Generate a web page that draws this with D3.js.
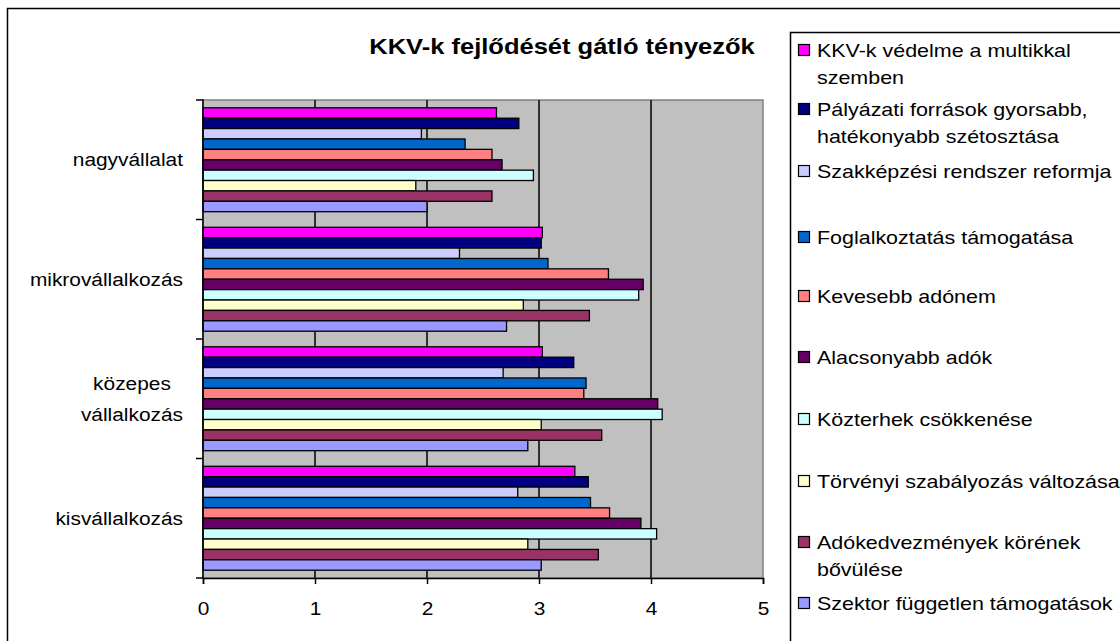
<!DOCTYPE html>
<html>
<head>
<meta charset="utf-8">
<script src="https://cdn.jsdelivr.net/npm/d3@7"></script>
<style>
    body { margin: 0; background: #fff; }
    text { font-family: "Liberation Sans", Arial, sans-serif; fill: #000; }
</style>
</head>
<body>
<svg id="chart" width="1120" height="641"></svg>
<script>
// categories, top to bottom as drawn
let categories = ["nagyvállalat", "mikrovállalkozás", "közepes vállalkozás", "kisvállalkozás"];

let series_names = [
    "KKV-k védelme a multikkal szemben",
    "Pályázati források gyorsabb, hatékonyabb szétosztása",
    "Szakképzési rendszer reformja",
    "Foglalkoztatás támogatása",
    "Kevesebb adónem",
    "Alacsonyabb adók",
    "Közterhek csökkenése",
    "Törvényi szabályozás változása",
    "Adókedvezmények körének bővülése",
    "Szektor független támogatások"
];

// legend text split into lines
let legend_lines = [
    ["KKV-k védelme a multikkal", "szemben"],
    ["Pályázati források gyorsabb,", "hatékonyabb szétosztása"],
    ["Szakképzési rendszer reformja"],
    ["Foglalkoztatás támogatása"],
    ["Kevesebb adónem"],
    ["Alacsonyabb adók"],
    ["Közterhek csökkenése"],
    ["Törvényi szabályozás változása"],
    ["Adókedvezmények körének", "bővülése"],
    ["Szektor független támogatások"]
];

let colors = ["#FF00FF", "#000080", "#CCCCFF", "#0066CC", "#FF8080",
              "#660066", "#CCFFFF", "#FFFFCC", "#993366", "#9999FF"];

// values per series, in category order: nagy, mikro, közepes, kis
let s_kkv_vedelme   = [2.62, 3.03, 3.03, 3.32];
let s_palyazati     = [2.82, 3.02, 3.31, 3.44];
let s_szakkepzesi   = [1.95, 2.29, 2.68, 2.81];
let s_foglalkoztat  = [2.34, 3.08, 3.42, 3.46];
let s_kevesebb_ado  = [2.58, 3.62, 3.40, 3.63];
let s_alacsony_ado  = [2.67, 3.93, 4.06, 3.91];
let s_kozterhek     = [2.95, 3.89, 4.10, 4.05];
let s_torvenyi      = [1.90, 2.86, 3.02, 2.90];
let s_adokedvezmeny = [2.58, 3.45, 3.56, 3.53];
let s_szektor       = [2.00, 2.71, 2.90, 3.02];

let x_ticks = [0, 1, 2, 3, 4, 5];

let all_series = [s_kkv_vedelme, s_palyazati, s_szakkepzesi, s_foglalkoztat, s_kevesebb_ado,
                  s_alacsony_ado, s_kozterhek, s_torvenyi, s_adokedvezmeny, s_szektor];

let stretch = 1.16;
let svg = d3.select("#chart");

function put_text(g, x, y, str, size, anchor, weight) {
    return g.append("text")
        .attr("transform", `translate(${x},${y}) scale(${stretch},1)`)
        .attr("text-anchor", anchor || "start")
        .style("font-size", size + "px")
        .style("font-weight", weight || "normal")
        .text(str);
}

let plot = { left: 203, right: 763, top: 100, bottom: 578 };

let x = d3.scaleLinear().domain([0, 5]).range([plot.left, plot.right]);
let y = d3.scaleBand().domain(categories).range([plot.top, plot.bottom]).padding(0);
let y_inner = d3.scaleBand().domain(d3.range(series_names.length))
    .range([0, y.bandwidth()]).paddingInner(0).paddingOuter(0.75);

// outer chart border
svg.append("rect")
    .attr("x", 7.5).attr("y", 8.5).attr("width", 1200).attr("height", 700)
    .attr("fill", "#fff").attr("stroke", "#000").attr("stroke-width", 1.5);

// plot area
svg.append("rect")
    .attr("x", plot.left).attr("y", plot.top)
    .attr("width", plot.right - plot.left).attr("height", plot.bottom - plot.top)
    .attr("fill", "#C0C0C0").attr("stroke", "#808080").attr("stroke-width", 1.5);

svg.append("g").selectAll("line")
    .data(x_ticks.filter(d => d > 0 && d < 5)).enter()
    .append("line")
    .attr("x1", d => x(d)).attr("x2", d => x(d))
    .attr("y1", plot.top).attr("y2", plot.bottom)
    .attr("stroke", "#000").attr("stroke-width", 1.5);

// bars
let bars = svg.append("g");
all_series.forEach((vals, si) => {
    bars.selectAll(null)
        .data(vals).enter()
        .append("rect")
        .attr("x", x(0))
        .attr("y", (d, ci) => y(categories[ci]) + y_inner(si))
        .attr("width", d => x(d) - x(0))
        .attr("height", y_inner.bandwidth())
        .attr("fill", colors[si])
        .attr("stroke", "#000")
        .attr("stroke-width", 1.3);
});

// x axis
let x_axis = d3.axisBottom(x).tickValues(x_ticks).tickSize(6).tickFormat(d3.format("d"));
let xg = svg.append("g").attr("transform", `translate(0,${plot.bottom})`).call(x_axis);
xg.select(".domain").attr("stroke", "#000").attr("stroke-width", 1.5);
xg.selectAll(".tick line").attr("stroke", "#000").attr("stroke-width", 1.5);
xg.selectAll(".tick text")
    .attr("y", 37).attr("dy", null)
    .attr("transform", `scale(${stretch},1)`)
    .style("font-size", "18px").style("font-family", null);

// y axis
let yg = svg.append("g");
yg.append("line")
    .attr("x1", plot.left).attr("x2", plot.left)
    .attr("y1", plot.top - 0.75).attr("y2", plot.bottom + 0.75)
    .attr("stroke", "#000").attr("stroke-width", 1.5);
let bounds = categories.map(c => y(c)).concat([plot.bottom]);
yg.selectAll(".ytick")
    .data(bounds).enter()
    .append("line")
    .attr("x1", plot.left - 7).attr("x2", plot.left)
    .attr("y1", d => d).attr("y2", d => d)
    .attr("stroke", "#000").attr("stroke-width", 1.5);

let label_right = 183;
categories.forEach(c => {
    let lines = c.split(" ");
    let mid = y(c) + y.bandwidth() / 2;
    let lh = 31;
    let first = mid - (lines.length - 1) * lh / 2;
    if (lines.length == 1) {
        put_text(yg, label_right, mid + 6.5, c, 18, "end");
    } else {
        let texts = lines.map((l, i) => put_text(yg, 0, first + i * lh + 6.5, l, 18, "middle"));
        let w = d3.max(texts.map(t => t.node().getComputedTextLength())) * stretch;
        texts.forEach((t, i) => t.attr("transform",
            `translate(${label_right - w / 2},${first + i * lh + 6.5}) scale(${stretch},1)`));
    }
});

// title
put_text(svg, 562, 54, "KKV-k fejlődését gátló tényezők", 22, "middle", "bold");

// legend
let legend = svg.append("g");
legend.append("rect")
    .attr("x", 790.5).attr("y", 32.5).attr("width", 500).attr("height", 700)
    .attr("fill", "#fff").attr("stroke", "#000").attr("stroke-width", 1.5);

let legend_y = [50, 109, 171, 237, 296, 357, 419, 481, 542, 603];
legend_lines.forEach((lines, i) => {
    let cy = legend_y[i];
    legend.append("rect")
        .attr("x", 798.5).attr("y", cy - 5.5)
        .attr("width", 11).attr("height", 11)
        .attr("fill", colors[i]).attr("stroke", "#000").attr("stroke-width", 1.2);
    lines.forEach((l, k) => {
        put_text(legend, 817, cy + 6.5 + k * 27, l, 18.5, "start");
    });
});
</script>
</body>
</html>
